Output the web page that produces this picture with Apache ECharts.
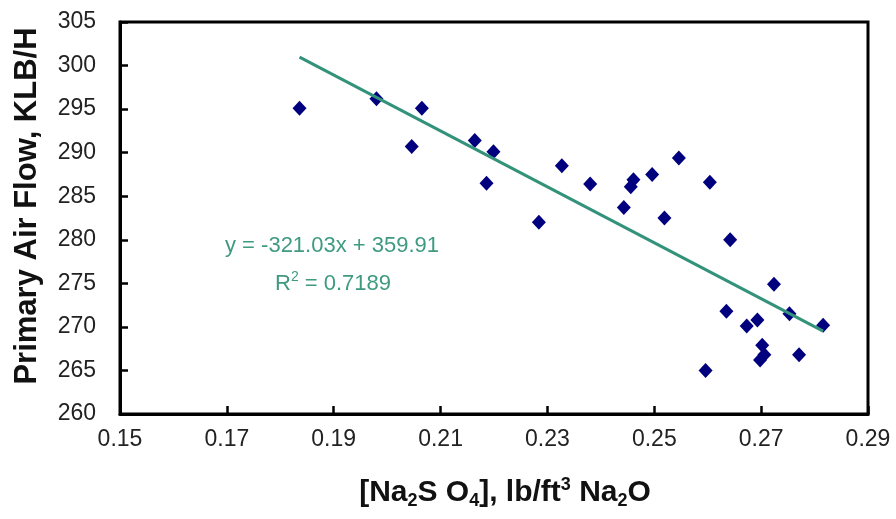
<!DOCTYPE html>
<html>
<head>
<meta charset="utf-8">
<style>
  html, body { margin: 0; padding: 0; background: #fff; }
  #chart { width: 896px; height: 519px; }
</style>
<script src="https://cdn.jsdelivr.net/npm/echarts@6/dist/echarts.min.js"></script>
</head>
<body>
<div id="chart"></div>
<script>
// Sulfate concentration vs. primary air flow, with a linear trend line.
const sulfateConc = [
  0.1836, 0.1980, 0.2065, 0.2046, 0.2164, 0.2199, 0.2186, 0.2327, 0.2380, 0.2284,
  0.2461, 0.2456, 0.2496, 0.2546, 0.2604, 0.2443, 0.2519, 0.2642, 0.2724, 0.2635,
  0.2673, 0.2693, 0.2753, 0.2816, 0.2702, 0.2706, 0.2698, 0.2771, 0.2596
];
const primaryAirFlow = [
  295.1, 296.2, 295.1, 290.7, 291.4, 290.1, 286.5, 288.5, 286.4, 282.0,
  286.9, 286.1, 287.5, 289.4, 286.6, 283.7, 282.5, 280.0, 274.9, 271.8,
  270.1, 270.8, 271.5, 270.2, 267.9, 266.8, 266.2, 266.8, 265.0
];
// Fitted trend: y = slope * x + intercept
const trendSlope = -321.03;
const trendIntercept = 359.91;
const trendR2 = 0.7189;

const xTicks = { min: 0.15, max: 0.29, step: 0.02 };
const yTicks = { min: 260, max: 305, step: 5 };

const points = sulfateConc.map((x, i) => [x, primaryAirFlow[i]]);
const xLo = Math.min(...sulfateConc);
const xHi = Math.max(...sulfateConc);
const trendLine = [
  [xLo, trendSlope * xLo + trendIntercept],
  [xHi, trendSlope * xHi + trendIntercept]
];

const eqText = 'y = ' + trendSlope.toFixed(2) + 'x + ' + trendIntercept.toFixed(2);
const r2Text = '{n|R}{p|2}{n| = ' + trendR2.toFixed(4) + '}';

const FONT = '"Liberation Sans", Arial, sans-serif';
const TEAL = '#33937a';
const EQ_COLOR = '#3f9a80';

const chart = echarts.init(document.getElementById('chart'), null, { renderer: 'canvas' });

const axisCommon = {
  axisLine: { show: true, onZero: false, lineStyle: { color: '#000', width: 3 } },
  axisTick: { show: true, inside: true, length: 8, lineStyle: { color: '#000', width: 2.5 } },
  splitLine: { show: false },
  axisLabel: { color: '#222', fontFamily: FONT, fontSize: 23 }
};

chart.setOption({
  animation: false,
  backgroundColor: '#fff',
  grid: {
    left: 120, right: 28, top: 22, bottom: 105,
    show: true, borderColor: '#000', borderWidth: 3, backgroundColor: '#fff'
  },
  xAxis: Object.assign({}, axisCommon, {
    type: 'value',
    min: xTicks.min, max: xTicks.max, interval: xTicks.step,
    axisLabel: Object.assign({}, axisCommon.axisLabel, {
      margin: 14,
      formatter: v => v.toFixed(2)
    }),
    name: '{b|[Na}{s|2}{b|S O}{s|4}{b|], lb/ft}{p|3}{b| Na}{s|2}{b|O}',
    nameLocation: 'middle',
    nameGap: 62,
    nameTextStyle: {
      padding: [0, 0, 0, 22],
      rich: {
        b: { fontFamily: FONT, fontWeight: 'bold', fontSize: 30, lineHeight: 34, color: '#111' },
        s: { fontFamily: FONT, fontWeight: 'bold', fontSize: 18, lineHeight: 18, verticalAlign: 'bottom', color: '#111' },
        p: { fontFamily: FONT, fontWeight: 'bold', fontSize: 18, lineHeight: 18, verticalAlign: 'top', color: '#111' }
      }
    }
  }),
  yAxis: Object.assign({}, axisCommon, {
    type: 'value',
    min: yTicks.min, max: yTicks.max, interval: yTicks.step,
    axisLabel: Object.assign({}, axisCommon.axisLabel, { margin: 24 }),
    name: 'Primary Air Flow, KLB/H',
    nameLocation: 'middle',
    nameRotate: 90,
    nameGap: 77,
    nameTextStyle: {
      fontFamily: FONT, fontWeight: 'bold', fontSize: 31, color: '#111',
      padding: [0, 0, 0, 24]
    }
  }),
  series: [
    {
      type: 'scatter',
      data: points,
      symbol: 'diamond',
      symbolSize: [14, 15],
      itemStyle: { color: '#00007e', opacity: 1 },
      z: 2
    },
    {
      type: 'line',
      data: trendLine,
      showSymbol: false,
      symbol: 'none',
      lineStyle: { color: TEAL, width: 3 },
      z: 3
    }
  ],
  graphic: [
    {
      type: 'text',
      left: 225, top: 235,
      style: { text: eqText, fill: EQ_COLOR, font: '22px ' + FONT }
    },
    {
      type: 'text',
      left: 275, top: 270,
      style: {
        text: r2Text,
        rich: {
          n: { fill: EQ_COLOR, fontFamily: FONT, fontSize: 22, lineHeight: 27, color: EQ_COLOR },
          p: { fill: EQ_COLOR, fontFamily: FONT, fontSize: 14, lineHeight: 14, verticalAlign: 'top', color: EQ_COLOR }
        }
      }
    }
  ]
});
</script>
</body>
</html>
